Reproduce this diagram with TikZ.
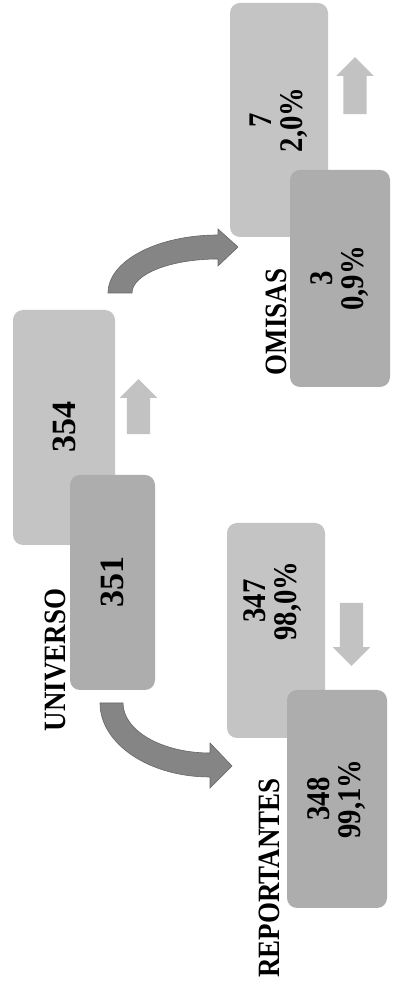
\documentclass[tikz,border=0pt]{standalone}
\usepackage{fontspec}
\setmainfont{Liberation Serif}
\newfontfamily\narrowserif{Liberation Serif}[FakeStretch=0.87]
\usetikzlibrary{shapes.arrows}

\definecolor{backgray}{gray}{0.77}
\definecolor{frontgray}{gray}{0.68}
\definecolor{bendgray}{gray}{0.52}
\definecolor{tipgray}{gray}{0.76}

\begin{document}
\begin{tikzpicture}[
  x=1pt, y=1pt,
  backbox/.style={fill=backgray, rounded corners=10pt, rotate=90, inner sep=0pt, align=center},
  frontbox/.style={backbox, fill=frontgray},
  big/.style={font=\fontsize{34}{36}\selectfont\bfseries},
  pct/.style={font=\narrowserif\fontsize{33}{31}\selectfont\bfseries},
  lab/.style={rotate=90, inner sep=0pt, font=\narrowserif\fontsize{31}{32}\selectfont\bfseries},
  bentarrow/.style={fill=bendgray, draw=black!60, line width=0.6pt},
  smallarrow/.style={single arrow, fill=tipgray, inner sep=11.5pt,
    single arrow head extend=7pt, single arrow tip angle=90}]
  \useasboundingbox[fill=white] (0,0) rectangle (392,994);
  % universo
  \node[backbox, big, minimum width=235pt, minimum height=102pt] (uBack) at (64,566.5) {354};
  \node[frontbox, big, minimum width=215pt, minimum height=85pt] (uFront) at (112.5,411.5) {351};
  \node[lab] (uLab) at (55,334) {UNIVERSO};
  \node[smallarrow, rotate=90, minimum height=55pt] (uTip) at (138.5,581.5) {};
  % reportantes
  \node[backbox, minimum width=215pt, minimum height=98pt] (rBack) at (276,363.5) {};
  \node[pct, rotate=90, align=center] (rBackTxt) at (273,393) {347\\98,0\%};
  \node[frontbox, pct, minimum width=218pt, minimum height=100pt] (rFront) at (337,195) {348\\99,1\%};
  \node[lab] (rLab) at (269,116) {REPORTANTES};
  \node[smallarrow, rotate=-90, minimum height=63pt] (rTip) at (351.5,365.5) {};
  % omisas
  \node[backbox, pct, minimum width=234pt, minimum height=98pt] (oBack) at (279,874) {7\\2,0\%};
  \node[frontbox, pct, minimum width=217pt, minimum height=100pt] (oFront) at (340,715.5) {3\\0,9\%};
  \node[lab] (oLab) at (276,672) {OMISAS};
  \node[smallarrow, rotate=90, minimum height=57pt] (oTip) at (355,902.5) {};
  % bent arrows
  \coordinate (toOmisas) at (108,701);
  \coordinate (toReport) at (100,291);
  \draw[bentarrow] (toOmisas) arc[start angle=180, end angle=90, x radius=110, y radius=58]
    -- ++(0,6) -- ++(20,-18) -- ++(-20,-19) -- ++(0,7)
    arc[start angle=90, end angle=180, x radius=86, y radius=34] -- cycle;
  \draw[bentarrow] (toReport) arc[start angle=180, end angle=270, x radius=110, y radius=74]
    -- ++(0,-11) -- ++(22,22) -- ++(-22,23) -- ++(0,-10)
    arc[start angle=270, end angle=180, x radius=87, y radius=50] -- cycle;
\end{tikzpicture}
\end{document}
